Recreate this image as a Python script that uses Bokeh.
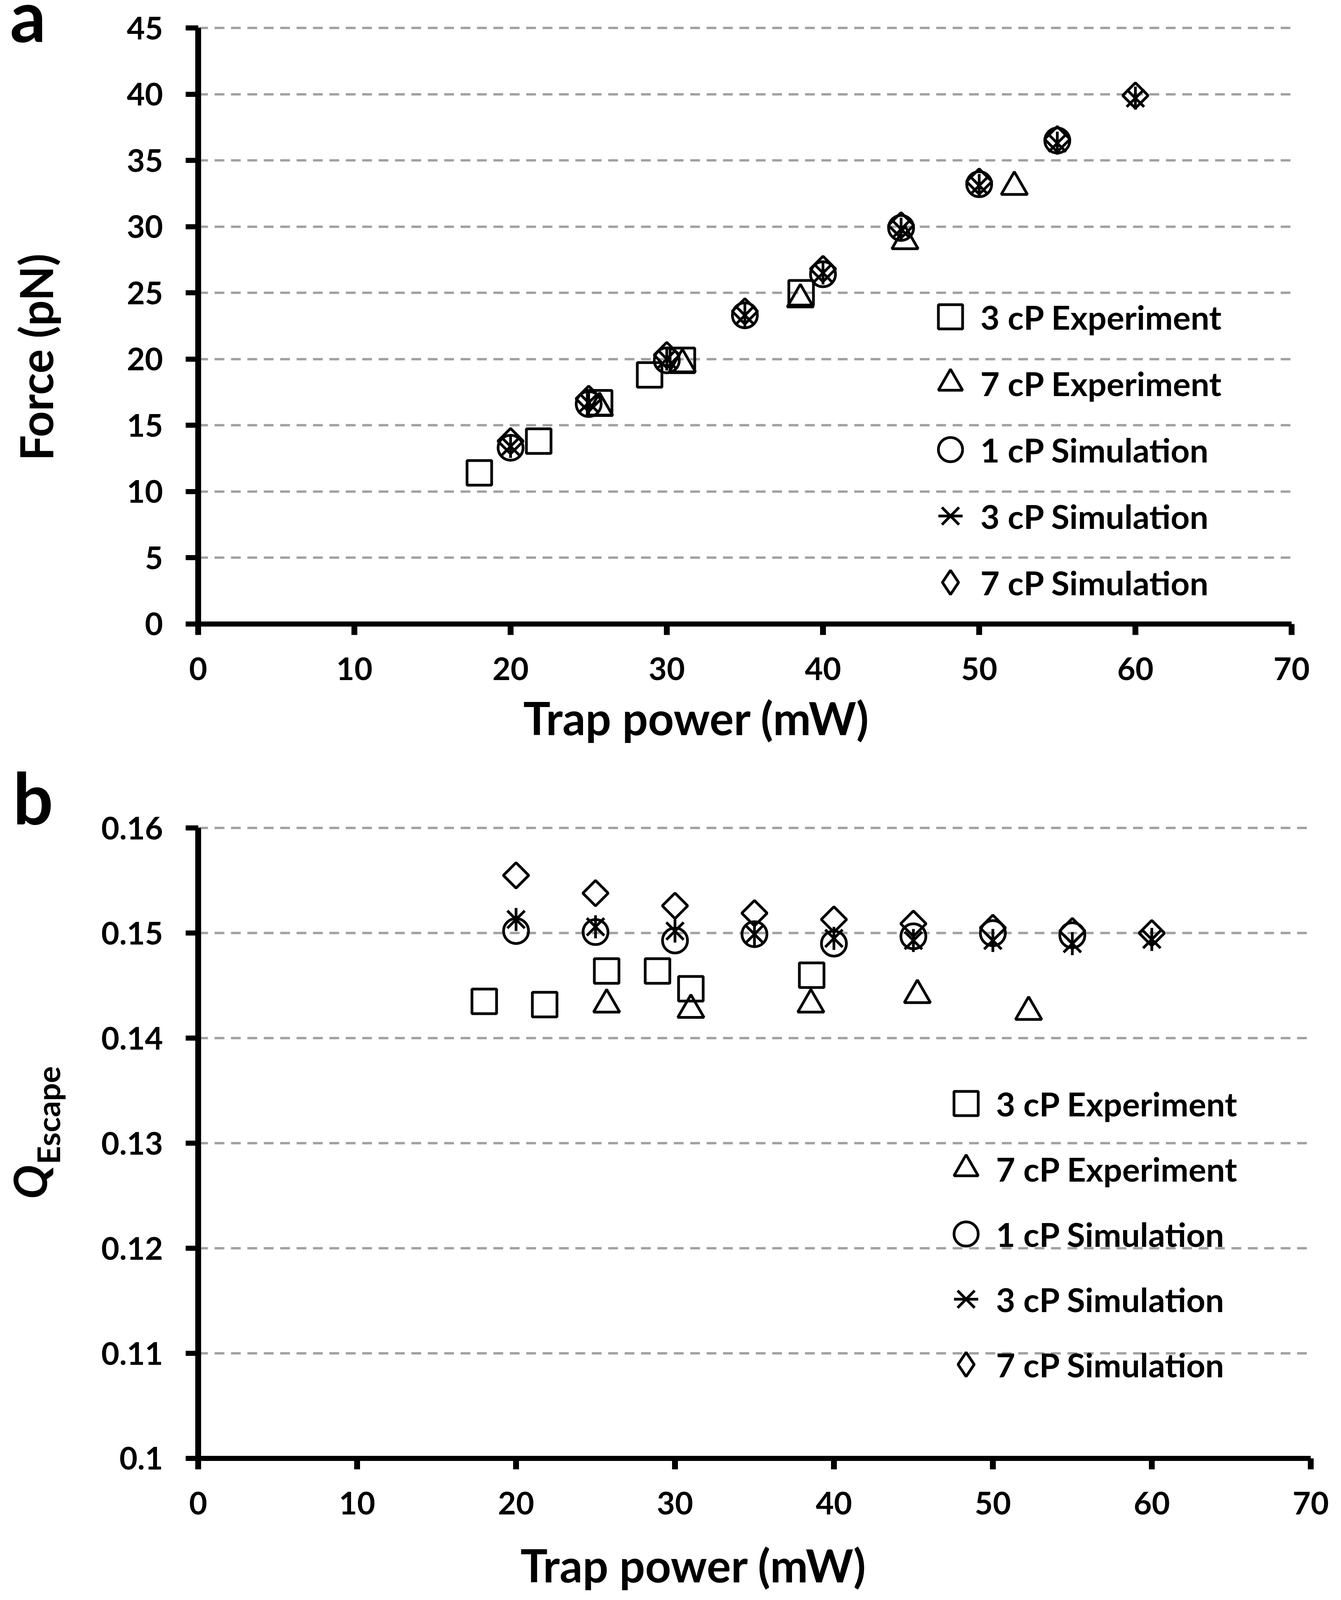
import math
from bokeh.plotting import figure
from bokeh.models import (Range1d, FixedTicker, Legend, LegendItem, Label, Grid)
from bokeh.layouts import column
from bokeh.embed import file_html
from bokeh.resources import INLINE

FONT = "Lato"

# ---------------- data ----------------
sim_power = [20, 25, 30, 35, 40, 45, 50, 55, 60]
sim1_power = [20, 25, 30, 35, 40, 45, 50, 55]
exp3_power = [18.0, 21.8, 25.7, 28.9, 31.0, 38.6]
exp7_power = [25.7, 31.0, 38.55, 45.25, 52.25]

# panel a: escape force (pN)
force_exp3 = [11.4, 13.8, 16.7, 18.8, 19.9, 25.0]
force_exp7 = [16.3, 19.6, 24.5, 28.9, 33.0]
force_sim1 = [13.3, 16.6, 19.9, 23.3, 26.4, 29.9, 33.2, 36.5]
force_sim3 = [13.4, 16.7, 20.0, 23.3, 26.5, 29.8, 33.1, 36.3, 39.7]
force_sim7 = [13.8, 17.0, 20.3, 23.6, 26.8, 30.1, 33.4, 36.6, 39.9]

# panel b: Q escape
q_exp3 = [0.1435, 0.1432, 0.1464, 0.1464, 0.1447, 0.1460]
q_exp7 = [0.1432, 0.1427, 0.1432, 0.1441, 0.1425]
q_sim1 = [0.1502, 0.1501, 0.1493, 0.1499, 0.1490, 0.1497, 0.1500, 0.1498]
q_sim3 = [0.1513, 0.1506, 0.1502, 0.1499, 0.1495, 0.1493, 0.1493, 0.1490, 0.1494]
q_sim7 = [0.1555, 0.1538, 0.1526, 0.1519, 0.1513, 0.1509, 0.1505, 0.1502, 0.1500]

series_labels = ["3 cP Experiment", "7 cP Experiment", "1 cP Simulation",
                 "3 cP Simulation", "7 cP Simulation"]

x_ticks = [0, 10, 20, 30, 40, 50, 60, 70]
force_ticks = [0, 5, 10, 15, 20, 25, 30, 35, 40, 45]
q_ticks = [0.1, 0.11, 0.12, 0.13, 0.14, 0.15, 0.16]
q_tick_labels = ["0.1", "0.11", "0.12", "0.13", "0.14", "0.15", "0.16"]

X_BOUNDS = (0, 70)
FORCE_BOUNDS = (0, 45)
Q_BOUNDS = (0.1, 0.16)

# ---------------- layout / style ----------------
K = 4096 / 4682      # vertical scale so that the whole page fits the window height
W = 3430
H1 = round(2208 * K) - 4
H2 = 2154
LW = 7
GRID_COLOR = "#a0a0a0"
GRID_DASH = "25 17"
TICK_FS = 80
LEG_FS = 85
TITLE_FS = 116
LETTER_FS = 182
GLYPH_BOX = 155
MID = 0.387          # label anchor sits this many em above the baseline

# where the plot areas sit on the page (reference pixels)
A_X0, A_PX_PER_X = 507, 40.0
A_Y0, A_PX_PER_Y = 1825, 38.75
B_X0, B_PX_PER_X = 507, 40.7
B_YREF, B_QREF, B_PX_PER_Q = 2730, 0.15, 30740

XR_A = (-A_X0 / A_PX_PER_X, (W - A_X0) / A_PX_PER_X)
YR_A = ((A_Y0 - H1 / K) / A_PX_PER_Y, A_Y0 / A_PX_PER_Y)
XR_B = (-B_X0 / B_PX_PER_X, (W - B_X0) / B_PX_PER_X)
YR_B = (B_QREF + (B_YREF - (H1 + H2) / K) / B_PX_PER_Q,
        B_QREF + (B_YREF - H1 / K) / B_PX_PER_Q)


def make_fig(height, xr, yr, yticks, ybounds):
    p = figure(width=W, height=height, output_backend="svg", toolbar_location=None,
               x_range=Range1d(*xr), y_range=Range1d(*yr),
               min_border_left=0, min_border_right=0,
               min_border_top=0, min_border_bottom=0)
    p.outline_line_color = None
    p.background_fill_color = "white"
    p.border_fill_color = "white"
    p.extra_x_ranges = {"offcanvas": Range1d(1000, 1100)}
    xa, ya = p.xaxis[0], p.yaxis[0]
    xa.ticker = FixedTicker(ticks=x_ticks)
    ya.ticker = FixedTicker(ticks=yticks)
    xa.bounds = X_BOUNDS
    ya.bounds = ybounds
    xa.fixed_location = ybounds[0]
    ya.fixed_location = X_BOUNDS[0]
    for ax in (xa, ya):
        ax.axis_line_color = "black"
        ax.major_tick_line_color = "black"
        ax.major_tick_in = 0
        ax.minor_tick_line_color = None
        ax.major_label_text_font = FONT
        ax.major_label_text_font_style = "bold"
        ax.major_label_text_font_size = f"{TICK_FS}px"
        ax.major_label_text_color = "black"
    xa.axis_line_width = 13
    xa.major_tick_line_width = 15
    xa.major_tick_out = 28
    xa.major_label_standoff = 58
    ya.axis_line_width = 15
    ya.major_tick_line_width = 13
    ya.major_tick_out = 32
    ya.major_label_standoff = 58
    p.xgrid.visible = False
    yg = p.ygrid[0]
    if "cross_bounds" in Grid.properties():
        yg.bounds = ybounds
        yg.cross_bounds = X_BOUNDS
        yg.grid_line_color = GRID_COLOR
        yg.grid_line_width = 6
        yg.grid_line_dash = GRID_DASH
        yg.level = "underlay"
    else:
        yg.visible = False
        gy = [t for t in yticks if t != ybounds[0]]
        p.segment(x0=[X_BOUNDS[0]] * len(gy), x1=[X_BOUNDS[1]] * len(gy), y0=gy, y1=gy,
                  line_color=GRID_COLOR, line_width=6, line_dash=GRID_DASH, level="underlay")
    return p


def add_series(p, xs, ys):
    (x3, x7, x1, xs3, xs7) = xs
    (y3, y7, y1, ys3, ys7) = ys
    common = dict(line_color="black", line_width=LW, fill_color=None)
    r_sq = p.scatter(x3, y3, marker="square", size=63, **common)
    r_tri = p.scatter(x7, y7, marker="triangle", size=67, **common)
    r_cir = p.scatter(x1, y1, marker="circle", size=64, **common)
    r_x = p.scatter(xs3, ys3, marker="x", size=63, **common)
    r_bar = p.scatter(xs3, ys3, marker="dash", size=59, angle=math.pi / 2, **common)
    p.scatter(xs7, ys7, marker="square", size=46, angle=math.pi / 4, **common)
    # legend glyph for the diamond series (legend glyphs are never rotated);
    # mapped to a range outside the canvas so it only shows in the legend
    r_dia_leg = p.scatter(xs7, ys7, marker="diamond", size=62,
                          x_range_name="offcanvas", **common)
    return r_sq, r_tri, r_cir, r_x, r_bar, r_dia_leg


def add_legend(p, rs, vx, vy, spacing):
    r_sq, r_tri, r_cir, r_x, r_bar, r_dia = rs
    leg = Legend(items=[LegendItem(label=series_labels[0], renderers=[r_sq]),
                        LegendItem(label=series_labels[1], renderers=[r_tri]),
                        LegendItem(label=series_labels[2], renderers=[r_cir]),
                        LegendItem(label=series_labels[3], renderers=[r_x, r_bar]),
                        LegendItem(label=series_labels[4], renderers=[r_dia])],
                 location=(vx, vy), glyph_width=GLYPH_BOX, glyph_height=GLYPH_BOX,
                 label_standoff=0, spacing=spacing,
                 label_text_font=FONT, label_text_font_style="bold",
                 label_text_font_size=f"{LEG_FS}px", label_text_color="black",
                 padding=0, margin=0, border_line_color=None,
                 background_fill_alpha=0, orientation="vertical")
    p.add_layout(leg)


def text_label(p, xr, yr, h, x, y, text, size, style="bold", rotated=False, align="left"):
    """x, y give the wanted baseline position in data units."""
    px_x = W / (xr[1] - xr[0])
    px_y = h / (yr[1] - yr[0])
    shift = MID * size
    if rotated:
        x = x - shift / px_x
    else:
        y = y + shift / px_y
    p.add_layout(Label(x=x, y=y, text=text, angle=(math.pi / 2 if rotated else 0.0),
                       text_align=align, text_baseline="alphabetic", text_font=FONT,
                       text_font_style=style, text_font_size=f"{size}px",
                       text_color="black"))


def legend_pos(center_x, first_center_y_ref, fig_top, fig_h, spacing):
    top = first_center_y_ref * K - GLYPH_BOX / 2
    height = 5 * GLYPH_BOX + 4 * spacing
    bottom = top + height
    return (center_x - GLYPH_BOX / 2, (fig_top + fig_h) - bottom)


# ---------------- panel a ----------------
pa = make_fig(H1, XR_A, YR_A, force_ticks, FORCE_BOUNDS)
rs_a = add_series(pa, (exp3_power, exp7_power, sim1_power, sim_power, sim_power),
                  (force_exp3, force_exp7, force_sim1, force_sim3, force_sim7))
sp_a = round(194 * K - GLYPH_BOX)
add_legend(pa, rs_a, *legend_pos(2433, 926.5, 0, H1, sp_a), sp_a)
text_label(pa, XR_A, YR_A, H1, -9.275, 20.14, "Force (pN)", TITLE_FS, rotated=True, align="center")
text_label(pa, XR_A, YR_A, H1, 31.9, -8.41, "Trap power (mW)", TITLE_FS, align="center")
text_label(pa, XR_A, YR_A, H1, -12.05, 43.94, "a", LETTER_FS)

# ---------------- panel b ----------------
pb = make_fig(H2, XR_B, YR_B, q_ticks, Q_BOUNDS)
pb.yaxis.major_label_overrides = {t: s for t, s in zip(q_ticks, q_tick_labels)}
rs_b = add_series(pb, (exp3_power, exp7_power, sim1_power, sim_power, sim_power),
                  (q_exp3, q_exp7, q_sim1, q_sim3, q_sim7))
sp_b = round(190.6 * K - GLYPH_BOX)
add_legend(pb, rs_b, *legend_pos(2473, 3229, H1, H2, sp_b), sp_b)
text_label(pb, XR_B, YR_B, H2, -9.51, 0.12469, "Q", 116, style="bold italic", rotated=True)
text_label(pb, XR_B, YR_B, H2, -8.70, 0.12800, "Escape", 81, rotated=True)
text_label(pb, XR_B, YR_B, H2, 31.17, 0.08819, "Trap power (mW)", TITLE_FS, align="center")
text_label(pb, XR_B, YR_B, H2, -11.66, 0.16036, "b", LETTER_FS)

layout = column(pa, pb)
open("out.html", "w").write(file_html(layout, INLINE))
